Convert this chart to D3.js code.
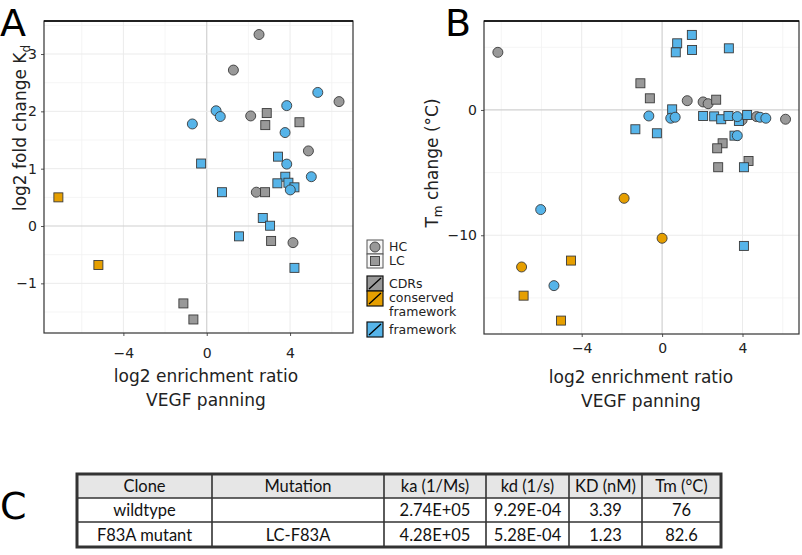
<!DOCTYPE html>
<html><head><meta charset="utf-8">
<script src="https://cdn.jsdelivr.net/npm/d3@7"></script>
<style>
html,body{margin:0;padding:0;background:#fff;}
svg text{font-family:"DejaVu Sans",sans-serif;}
</style></head>
<body><svg id="c" width="802" height="555"></svg>
<script>
// ---------- Data ----------
// Panel A: [log2 enrichment ratio, log2 fold change Kd]
const aHC_CDR = [[2.51,3.34],[1.28,2.72],[6.35,2.17],[2.11,1.92],[4.88,1.31],[2.38,0.59],[4.14,-0.29]];
const aLC_CDR = [[2.88,1.97],[2.81,1.76],[4.45,1.81],[2.80,0.59],[3.09,-0.26],[-1.12,-1.35],[-0.64,-1.63]];
const aLC_FW  = [[3.42,1.21],[-0.27,1.09],[3.77,0.86],[3.39,0.745],[3.92,0.755],[4.21,0.675],[0.73,0.59],[2.69,0.14],[3.04,0.005],[1.55,-0.18],[4.21,-0.73]];
const aHC_FW  = [[5.33,2.33],[3.84,2.10],[0.45,2.01],[0.65,1.91],[-0.69,1.78],[3.76,1.63],[3.84,1.08],[5.02,0.86],[4.01,0.63]];
const aLC_CONS = [[-7.12,0.50],[-5.20,-0.68]];
// Panel B: [log2 enrichment ratio, Tm change]
const bHC_CDR = [[-8.17,4.6],[1.25,0.74],[2.04,0.64],[2.29,0.50],[3.98,-0.80],[4.70,-0.53],[6.14,-0.74]];
const bLC_CDR = [[-1.08,2.13],[-0.61,0.93],[2.69,0.82],[3.01,-2.66],[2.74,-3.06],[4.30,-4.07],[2.79,-4.57]];
const bLC_FW  = [[1.48,5.99],[0.75,5.32],[0.68,4.6],[1.49,4.79],[3.32,4.92],[0.50,0.05],[2.04,-0.48],[2.59,-0.51],[2.94,-0.74],[3.30,-0.48],[3.82,-0.88],[4.23,-0.40],[-1.33,-1.54],[-0.26,-1.86],[3.60,-2.05],[4.07,-4.57],[4.07,-10.85]];
const bHC_FW  = [[-0.66,-0.48],[0.43,-0.66],[0.65,-0.58],[3.74,-0.53],[4.87,-0.58],[5.16,-0.66],[3.74,-2.05],[-6.04,-7.95],[-5.38,-14.02]];
const bHC_CONS = [[-1.89,-7.05],[0.0,-10.24],[-6.99,-12.53]];
const bLC_CONS = [[-4.53,-12.02],[-6.89,-14.82],[-5.03,-16.81]];

const xTicks = [-4,0,4];
const aYTicks = [-1,0,1,2,3];
const bYTicks = [-10,0];

const legendShapes = ["HC","LC"];
const legendRegions = ["CDRs","conserved\nframework","framework"];

const tableHeader = ["Clone","Mutation","ka (1/Ms)","kd (1/s)","KD (nM)","Tm (°C)"];
const tableRows = [
  ["wildtype","","2.74E+05","9.29E-04","3.39","76"],
  ["F83A mutant","LC-F83A","4.28E+05","5.28E-04","1.23","82.6"]
];

// ---------- Styles ----------
const colCDR = "#999999", colCons = "#E69F00", colFW = "#56B4E9";
const svg = d3.select("#c");

function panel(o){
  const g = svg.append("g");
  const x = d3.scaleLinear().domain(o.xd).range([o.l,o.r]);
  const y = d3.scaleLinear().domain(o.yd).range([o.b,o.t]);
  // minor grid
  g.selectAll(".mx").data(o.xMinor).join("line")
    .attr("x1",d=>x(d)).attr("x2",d=>x(d)).attr("y1",o.t).attr("y2",o.b)
    .attr("stroke","#f2f2f2").attr("stroke-width",0.8);
  g.selectAll(".my").data(o.yMinor).join("line")
    .attr("y1",d=>y(d)).attr("y2",d=>y(d)).attr("x1",o.l).attr("x2",o.r)
    .attr("stroke","#f2f2f2").attr("stroke-width",0.8);
  // major grid
  g.selectAll(".gx").data(xTicks).join("line")
    .attr("x1",d=>x(d)).attr("x2",d=>x(d)).attr("y1",o.t).attr("y2",o.b)
    .attr("stroke",d=>d===0?"#d0d0d0":"#ebebeb").attr("stroke-width",d=>d===0?1.2:1);
  g.selectAll(".gy").data(o.yTicks).join("line")
    .attr("y1",d=>y(d)).attr("y2",d=>y(d)).attr("x1",o.l).attr("x2",o.r)
    .attr("stroke",d=>d===0?"#d0d0d0":"#ebebeb").attr("stroke-width",d=>d===0?1.2:1);
  // axes
  const ax = d3.axisBottom(x).tickValues(xTicks).tickSize(3).tickPadding(9).tickFormat(d3.format("d"));
  const ay = d3.axisLeft(y).tickValues(o.yTicks).tickSize(3).tickPadding(4).tickFormat(d3.format("d"));
  const gx = g.append("g").attr("transform",`translate(0,${o.b})`).call(ax);
  const gy = g.append("g").attr("transform",`translate(${o.l},0)`).call(ay);
  [gx,gy].forEach(a=>{
    a.select(".domain").remove();
    a.selectAll(".tick line").attr("stroke","#555");
    a.selectAll(".tick text").attr("font-size",14).attr("fill","#222")
     .attr("font-family","DejaVu Sans, sans-serif");
  });
  gx.selectAll(".tick text").attr("dy",o.xdy);
  // border
  g.append("rect").attr("x",o.l).attr("y",o.t).attr("width",o.r-o.l).attr("height",o.b-o.t)
    .attr("fill","none").attr("stroke","#333").attr("stroke-width",1.2);
  g.append("line").attr("x1",o.l).attr("x2",o.r).attr("y1",o.t).attr("y2",o.t).attr("stroke","#000").attr("stroke-width",1.5);
  // points
  const sq = 9, r = 5;
  function circles(data,col){
    g.append("g").selectAll("circle").data(data).join("circle")
      .attr("cx",d=>x(d[0])).attr("cy",d=>y(d[1])).attr("r",r)
      .attr("fill",col).attr("stroke","#3a3a3a").attr("stroke-width",0.9);
  }
  function squares(data,col){
    g.append("g").selectAll("rect").data(data).join("rect")
      .attr("x",d=>x(d[0])-sq/2).attr("y",d=>y(d[1])-sq/2).attr("width",sq).attr("height",sq)
      .attr("fill",col).attr("stroke","#3a3a3a").attr("stroke-width",0.9);
  }
  o.draw(circles,squares);
  return {x,y};
}

panel({l:44,r:353,t:21,b:333,xd:[-7.81,7.02],yd:[-1.866,3.576],
  yTicks:aYTicks,xMinor:[-6,-2,2,6],yMinor:[-1.5,-0.5,0.5,1.5,2.5,3.5],xdy:"0.95em",
  draw:(c,s)=>{ c(aHC_CDR,colCDR); s(aLC_CDR,colCDR); s(aLC_FW,colFW); c(aHC_FW,colFW); s(aLC_CONS,colCons); }});
panel({l:484,r:799,t:21,b:334,xd:[-8.86,6.81],yd:[-17.88,7.1],
  yTicks:bYTicks,xMinor:[-8,-6,-2,2,6],yMinor:[-15,-5,5],xdy:"0.5em",
  draw:(c,s)=>{ c(bHC_CDR,colCDR); s(bLC_CDR,colCDR); s(bLC_FW,colFW); c(bHC_FW,colFW); c(bHC_CONS,colCons); s(bLC_CONS,colCons); }});

// axis titles
function xTitle(cx,y1){
  svg.append("text").attr("x",cx).attr("y",y1).attr("text-anchor","middle").attr("font-size",17).attr("fill","#222").text("log2 enrichment ratio");
  svg.append("text").attr("x",cx).attr("y",y1+24).attr("text-anchor","middle").attr("font-size",17).attr("fill","#222").text("VEGF panning");
}
xTitle(206,382); xTitle(641,383);
const ya = svg.append("text").attr("transform","translate(26,128) rotate(-90)").attr("text-anchor","middle").attr("font-size",17).attr("fill","#222");
ya.append("tspan").text("log2 fold change K");
ya.append("tspan").attr("font-size",12).attr("dy",4).text("d");
const yb = svg.append("text").attr("transform","translate(438,163) rotate(-90)").attr("text-anchor","middle").attr("font-size",17).attr("fill","#222");
yb.append("tspan").text("T");
yb.append("tspan").attr("font-size",12).attr("dy",4).text("m");
yb.append("tspan").attr("dy",-4).text(" change (°C)");

// panel letters
[["A",0,36],["B",445,36],["C",0,519]].forEach(([t,x,y])=>{
  svg.append("text").attr("x",x).attr("y",y).attr("font-size",38).attr("fill","#000").text(t);
});

// legend
const lg = svg.append("g");
const lx = 367, lw = 16;
legendShapes.forEach((t,i)=>{
  const y0 = 240 + i*14;
  lg.append("rect").attr("x",lx).attr("y",y0).attr("width",lw).attr("height",14).attr("fill","#f7f7f7").attr("stroke","#555").attr("stroke-width",1);
  if(i===0) lg.append("circle").attr("cx",lx+lw/2).attr("cy",y0+7).attr("r",5).attr("fill",colCDR).attr("stroke","#3a3a3a").attr("stroke-width",0.9);
  else lg.append("rect").attr("x",lx+lw/2-4.5).attr("y",y0+2.5).attr("width",9).attr("height",9).attr("fill",colCDR).attr("stroke","#3a3a3a").attr("stroke-width",0.9);
  lg.append("text").attr("x",389).attr("y",y0+11).attr("font-size",12.5).attr("fill","#222").text(t);
});
const regCols = [colCDR,colCons,colFW];
const regY = [276,291,322];
legendRegions.forEach((t,i)=>{
  const y0 = regY[i], h = 15;
  lg.append("rect").attr("x",lx).attr("y",y0).attr("width",lw).attr("height",h).attr("fill",regCols[i]).attr("stroke","#111").attr("stroke-width",1.2);
  lg.append("line").attr("x1",lx+2).attr("y1",y0+h-2).attr("x2",lx+lw-2).attr("y2",y0+2).attr("stroke","#000").attr("stroke-width",1.3);
  const lines = t.split("\n");
  lines.forEach((ln,j)=>{
    lg.append("text").attr("x",389).attr("y",(i===1?y0+11:y0+12)+j*14).attr("font-size",12.5).attr("fill","#222").text(ln);
  });
});

// table
const colEdges = [77,212,384,486,569,642,721];
const rowEdges = [474,498,522,547];
const tg = svg.append("g");
tg.append("rect").attr("x",colEdges[0]).attr("y",rowEdges[0]).attr("width",colEdges[6]-colEdges[0]).attr("height",rowEdges[1]-rowEdges[0]).attr("fill","#e6e6e6");
const allRows = [tableHeader].concat(tableRows);
allRows.forEach((row,ri)=>{
  row.forEach((v,ci)=>{
    tg.append("text").attr("x",(colEdges[ci]+colEdges[ci+1])/2).attr("y",(rowEdges[ri]+rowEdges[ri+1])/2+6)
      .attr("text-anchor","middle").attr("font-size",16.5).attr("fill","#111")
      .style("font-family","Lato, sans-serif").text(v);
  });
});
colEdges.slice(1,-1).forEach(cx=>{
  tg.append("line").attr("x1",cx).attr("x2",cx).attr("y1",rowEdges[0]).attr("y2",rowEdges[3]).attr("stroke","#333").attr("stroke-width",1.6);
});
rowEdges.slice(1,-1).forEach(ry=>{
  tg.append("line").attr("x1",colEdges[0]).attr("x2",colEdges[6]).attr("y1",ry).attr("y2",ry).attr("stroke","#333").attr("stroke-width",1.6);
});
tg.append("rect").attr("x",colEdges[0]).attr("y",rowEdges[0]).attr("width",colEdges[6]-colEdges[0]).attr("height",rowEdges[3]-rowEdges[0]).attr("fill","none").attr("stroke","#333").attr("stroke-width",3);
</script></body></html>
